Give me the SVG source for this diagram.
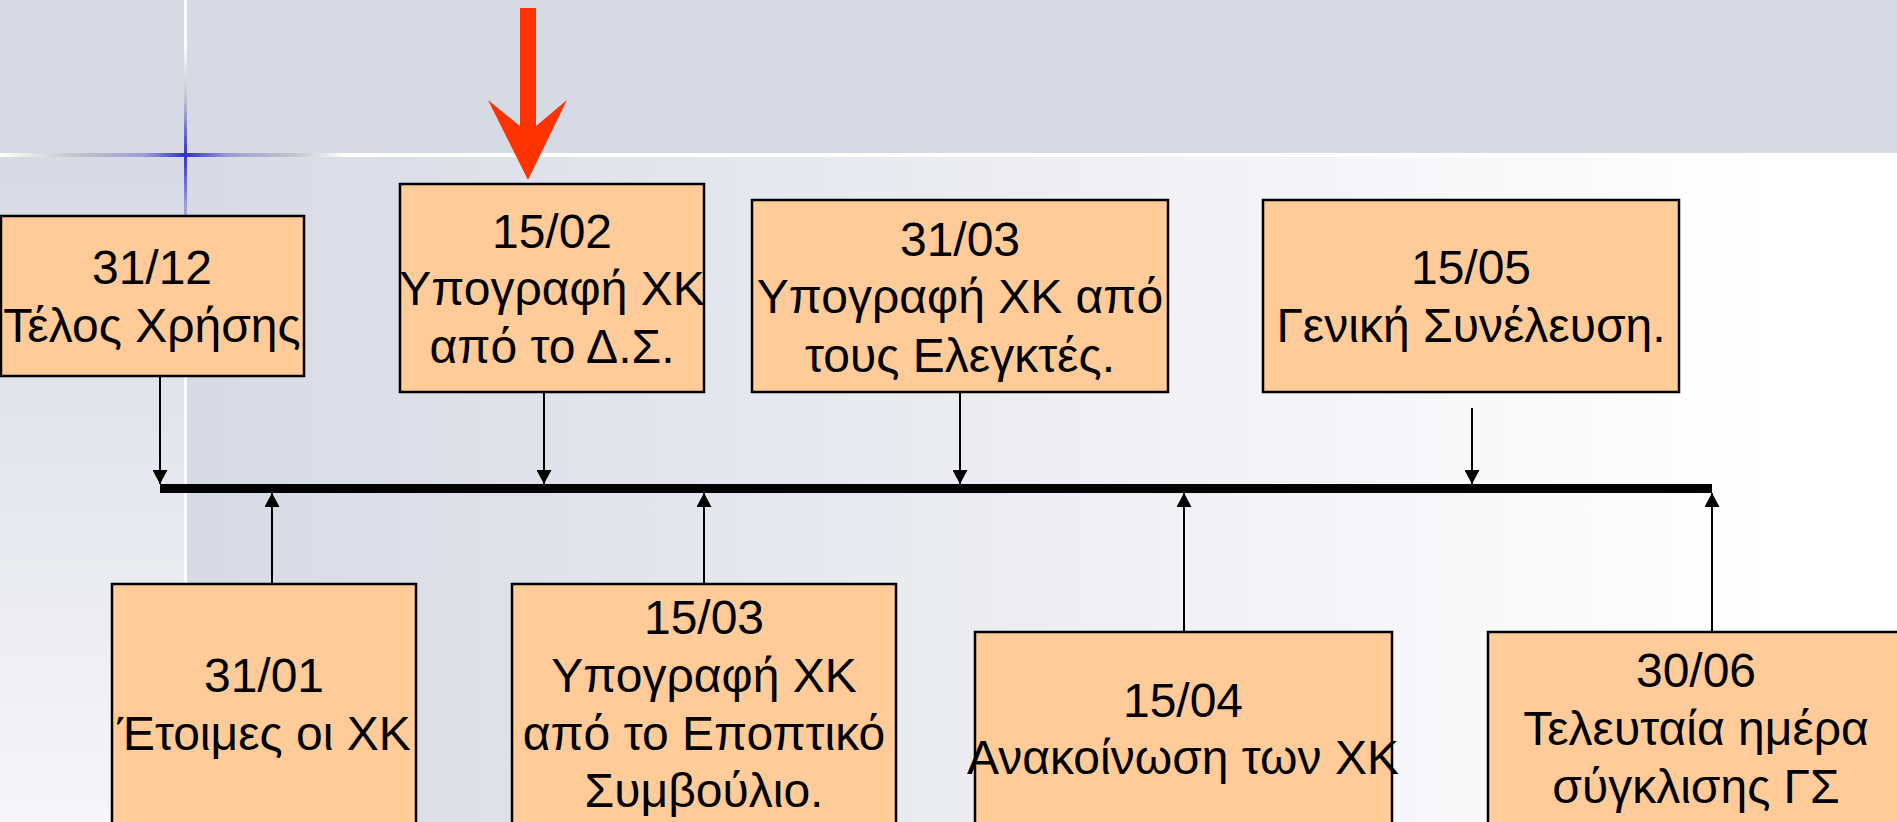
<svg xmlns="http://www.w3.org/2000/svg" width="1897" height="822" viewBox="0 0 1897 822">
<defs>
<style>
.box{fill:#FFCC99;stroke:#000;stroke-width:2.5}
.t{font-family:"Liberation Sans",Arial,sans-serif;font-size:48px;fill:#000;text-anchor:middle}
.conn{stroke:#000;stroke-width:2;fill:none}
</style>
<linearGradient id="gRight" gradientUnits="userSpaceOnUse" x1="185" y1="0" x2="1760" y2="0">
<stop offset="0" stop-color="#D6DAE5"/>
<stop offset="1" stop-color="#FFFFFF"/>
</linearGradient>
<linearGradient id="gLeft" gradientUnits="userSpaceOnUse" x1="0" y1="157" x2="0" y2="822">
<stop offset="0" stop-color="#D6DAE5"/>
<stop offset="1" stop-color="#F5F6F9"/>
</linearGradient>
<linearGradient id="gH" gradientUnits="userSpaceOnUse" x1="0" y1="0" x2="345" y2="0">
<stop offset="0" stop-color="#FFFFFF"/>
<stop offset="0.22" stop-color="#C4C4C8"/>
<stop offset="0.42" stop-color="#9C9CD8"/>
<stop offset="0.536" stop-color="#3030D0"/>
<stop offset="0.66" stop-color="#9C9CD8"/>
<stop offset="0.85" stop-color="#C4C4C8"/>
<stop offset="1" stop-color="#FFFFFF"/>
</linearGradient>
<linearGradient id="gV" gradientUnits="userSpaceOnUse" x1="0" y1="0" x2="0" y2="310">
<stop offset="0" stop-color="#FFFFFF"/>
<stop offset="0.14" stop-color="#FFFFFF"/>
<stop offset="0.32" stop-color="#C4C4C8"/>
<stop offset="0.5" stop-color="#3030D0"/>
<stop offset="0.66" stop-color="#9C9CD8"/>
<stop offset="0.8" stop-color="#C4C4C8"/>
<stop offset="1" stop-color="#FFFFFF"/>
</linearGradient>
<marker id="ah" markerUnits="userSpaceOnUse" markerWidth="15" markerHeight="15" viewBox="0 0 15 15" refX="14" refY="7.5" orient="auto">
<path d="M0,0 L14,7.5 L0,15 z" fill="#000"/>
</marker>
</defs>

<g id="background">
<rect x="0" y="0" width="1897" height="822" fill="url(#gRight)"/>
<rect x="0" y="157" width="185" height="665" fill="url(#gLeft)"/>
<rect x="0" y="0" width="1897" height="153" fill="#D6DAE5"/>
<rect x="0" y="153" width="1897" height="4" fill="#FFFFFF"/>
<rect x="184" y="0" width="3" height="584" fill="#FFFFFF"/>
<rect x="0" y="153" width="345" height="4" fill="url(#gH)"/>
<rect x="184" y="0" width="3" height="310" fill="url(#gV)"/>
</g>

<g id="connectors">
<rect x="160" y="484" width="1552" height="9" fill="#000"/>
<line class="conn" x1="160" y1="376" x2="160" y2="484" marker-end="url(#ah)"/>
<line class="conn" x1="544" y1="392" x2="544" y2="484" marker-end="url(#ah)"/>
<line class="conn" x1="960" y1="392" x2="960" y2="484" marker-end="url(#ah)"/>
<line class="conn" x1="1472" y1="408" x2="1472" y2="484" marker-end="url(#ah)"/>
<line class="conn" x1="272" y1="584" x2="272" y2="493" marker-end="url(#ah)"/>
<line class="conn" x1="704" y1="584" x2="704" y2="493" marker-end="url(#ah)"/>
<line class="conn" x1="1184" y1="632" x2="1184" y2="493" marker-end="url(#ah)"/>
<line class="conn" x1="1712" y1="632" x2="1712" y2="493" marker-end="url(#ah)"/>
</g>

<g id="node-3112">
<rect class="box" x="1" y="216" width="303" height="160"/>
<text class="t" x="152" y="284">31/12</text>
<text class="t" x="152" y="342">Τέλος Χρήσης</text>
</g>
<g id="node-1502">
<rect class="box" x="400" y="184" width="304" height="208"/>
<text class="t" x="552" y="248">15/02</text>
<text class="t" x="552" y="305">Υπογραφή ΧΚ</text>
<text class="t" x="552" y="363">από το Δ.Σ.</text>
</g>
<g id="node-3103">
<rect class="box" x="752" y="200" width="416" height="192"/>
<text class="t" x="960" y="256">31/03</text>
<text class="t" x="960" y="313">Υπογραφή ΧΚ από</text>
<text class="t" x="960" y="372">τους Ελεγκτές.</text>
</g>
<g id="node-1505">
<rect class="box" x="1263" y="200" width="416" height="192"/>
<text class="t" x="1471" y="284">15/05</text>
<text class="t" x="1471" y="342">Γενική Συνέλευση.</text>
</g>
<g id="node-3101">
<rect class="box" x="112" y="584" width="304" height="260"/>
<text class="t" x="264" y="692">31/01</text>
<text class="t" x="264" y="750">Έτοιμες οι ΧΚ</text>
</g>
<g id="node-1503">
<rect class="box" x="512" y="584" width="384" height="260"/>
<text class="t" x="704" y="634">15/03</text>
<text class="t" x="704" y="692">Υπογραφή ΧΚ</text>
<text class="t" x="704" y="750">από το Εποπτικό</text>
<text class="t" x="704" y="807">Συμβούλιο.</text>
</g>
<g id="node-1504">
<rect class="box" x="975" y="632" width="417" height="212"/>
<text class="t" x="1183" y="717">15/04</text>
<text class="t" x="1183" y="774">Ανακοίνωση των ΧΚ</text>
</g>
<g id="node-3006">
<rect class="box" x="1488" y="632" width="416" height="212"/>
<text class="t" x="1696" y="687">30/06</text>
<text class="t" x="1696" y="745">Τελευταία ημέρα</text>
<text class="t" x="1696" y="803">σύγκλισης ΓΣ</text>
</g>

<g id="red-arrow">
<polygon points="520,8 536,8 536,126 567,100 528,180 488,100 520,126" fill="#FF3300"/>
</g>
</svg>
